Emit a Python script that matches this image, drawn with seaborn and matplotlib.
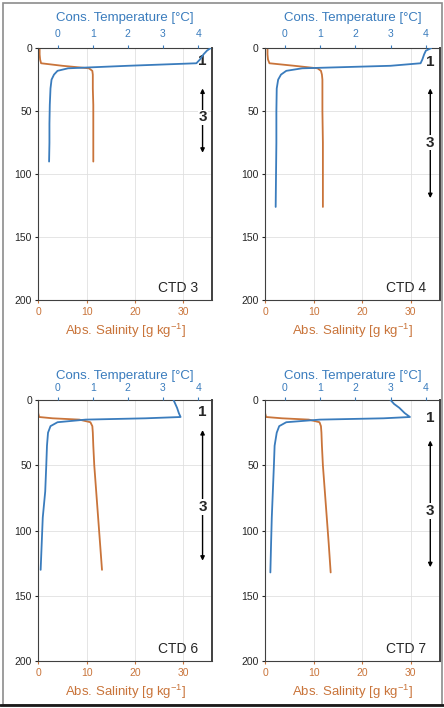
import matplotlib
matplotlib.use("Agg")
import matplotlib.pyplot as plt
import seaborn as sns
from matplotlib.patches import Rectangle
from matplotlib.lines import Line2D

# ==================== style ====================
sns.set_style("whitegrid")
plt.rcParams["font.family"] = ["Liberation Sans", "DejaVu Sans"]
plt.rcParams["mathtext.default"] = "regular"
plt.rcParams["axes.edgecolor"] = "0.25"

TEMP_COLOR = "#3a7cbd"
SAL_COLOR = "#c9743a"
LABEL_TEMP = "Cons. Temperature [°C]"
LABEL_SAL = "Abs. Salinity [g kg$^{-1}$]"

# ==================== profiles ====================
stations = ["CTD 3", "CTD 4", "CTD 6", "CTD 7"]

depth3 = [0, 2, 5, 9, 12, 14, 16, 18, 21, 25, 32, 45, 60, 75, 90]
temp3 = [4.35, 4.25, 4.15, 4.05, 3.95, 2.0, 0.3, 0.0, -0.1, -0.17, -0.2, -0.22, -0.23, -0.23, -0.24]
sal3 = [0.3, 0.3, 0.3, 0.4, 0.6, 5.0, 10.5, 11.2, 11.3, 11.3, 11.3, 11.4, 11.4, 11.4, 11.4]

depth4 = [0, 2, 5, 9, 12, 14, 16, 18, 21, 25, 32, 50, 75, 100, 126]
temp4 = [4.15, 4.0, 3.95, 3.9, 3.85, 3.0, 0.5, 0.05, -0.1, -0.18, -0.22, -0.23, -0.23, -0.24, -0.25]
sal4 = [0.5, 0.5, 0.5, 0.6, 0.9, 6.0, 10.8, 11.5, 11.7, 11.8, 11.8, 11.8, 11.9, 11.9, 11.9]

depth6 = [0, 3, 6, 10, 13, 14, 15, 17, 20, 25, 35, 50, 70, 90, 110, 130]
temp6 = [3.3, 3.35, 3.4, 3.45, 3.5, 2.5, 0.8, 0.0, -0.2, -0.27, -0.3, -0.32, -0.35, -0.42, -0.45, -0.48]
sal6 = [0.0, 0.0, 0.0, 0.0, 0.2, 3.0, 8.5, 10.8, 11.2, 11.3, 11.4, 11.6, 12.0, 12.4, 12.8, 13.2]

depth7 = [0, 3, 6, 10, 13, 14, 15, 17, 20, 25, 35, 50, 70, 90, 110, 132]
temp7 = [3.0, 3.1, 3.25, 3.4, 3.55, 2.8, 1.0, 0.05, -0.15, -0.22, -0.28, -0.3, -0.33, -0.36, -0.38, -0.4]
sal7 = [0.0, 0.0, 0.0, 0.0, 0.2, 3.5, 9.0, 11.2, 11.5, 11.6, 11.7, 11.9, 12.3, 12.7, 13.1, 13.5]

depths = [depth3, depth4, depth6, depth7]
temps = [temp3, temp4, temp6, temp7]
sals = [sal3, sal4, sal6, sal7]

# layer annotations: "1" depth, arrow top/bottom for layer "3", "3" label depth
layer1_depth = [10, 11, 9, 14]
arrow_top = [32, 32, 23, 31]
arrow_bot = [83, 119, 123, 128]
layer3_depth = [55, 75, 82, 85]

depth_ticks = [0, 50, 100, 150, 200]
sal_ticks = [0, 10, 20, 30]
temp_ticks = [0, 1, 2, 3, 4]

# ==================== figure ====================
fig = plt.figure(figsize=(4.44, 7.08), dpi=100)
positions = [
    [0.086, 0.576, 0.392, 0.356],
    [0.597, 0.576, 0.394, 0.356],
    [0.086, 0.066, 0.392, 0.369],
    [0.597, 0.066, 0.394, 0.369],
]
top_pad = [6, 6, 3, 3]

for i, name in enumerate(stations):
    ax = fig.add_axes(positions[i])
    axT = ax.twiny()

    sns.lineplot(x=sals[i], y=depths[i], orient="y", sort=False, estimator=None,
                 color=SAL_COLOR, lw=1.3, ax=ax)
    sns.lineplot(x=temps[i], y=depths[i], orient="y", sort=False, estimator=None,
                 color=TEMP_COLOR, lw=1.3, ax=axT)

    ax.set_ylim(200, 0)
    ax.set_xlim(0, 36)
    axT.set_xlim(-0.55, 4.4)

    ax.set_yticks(depth_ticks)
    ax.set_xticks(sal_ticks)
    axT.set_xticks(temp_ticks)

    ax.grid(True, color="0.88", lw=0.6)
    axT.grid(False)

    ax.tick_params(axis="y", labelsize=7.5, length=2.5, left=True, pad=2)
    ax.tick_params(axis="x", labelsize=7.5, length=2.5, bottom=True, pad=2.5,
                   labelcolor=SAL_COLOR, color=SAL_COLOR)
    axT.tick_params(axis="x", labelsize=7.5, length=2.5, top=True,
                    pad=4 if i < 2 else 2.5,
                    labelcolor=TEMP_COLOR, color=TEMP_COLOR)

    ax.set_xlabel(LABEL_SAL, color=SAL_COLOR, fontsize=9.5, labelpad=3)
    axT.set_xlabel(LABEL_TEMP, color=TEMP_COLOR, fontsize=9.5, labelpad=top_pad[i])
    ax.set_ylabel("")

    for sp in ax.spines.values():
        sp.set_linewidth(0.8)
    ax.spines["right"].set_linewidth(1.4)
    for sp in axT.spines.values():
        sp.set_visible(False)

    # layer marks
    ax.text(34, layer1_depth[i], "1", ha="center", va="center",
            fontsize=11, fontweight="bold")
    ax.annotate("", xy=(34, arrow_bot[i]), xytext=(34, arrow_top[i]),
                arrowprops=dict(arrowstyle="<|-|>", color="k", lw=1.0,
                                mutation_scale=6, shrinkA=0, shrinkB=0))
    ax.text(34, layer3_depth[i], "3", ha="center", va="center",
            fontsize=11, fontweight="bold",
            bbox=dict(fc="white", ec="none", pad=0.6))

    ax.text(0.92, 0.02, name, transform=ax.transAxes, ha="right", va="bottom",
            fontsize=10)

# frame around the whole figure
fig.patches.append(Rectangle((0.006, 0.004), 0.99, 0.992, transform=fig.transFigure,
                             fill=False, ec="0.55", lw=1.2))
fig.lines.append(Line2D([0.0, 1.0], [0.004, 0.004], transform=fig.transFigure,
                        color="0.1", lw=2))

fig.savefig("out.png", dpi=100)
